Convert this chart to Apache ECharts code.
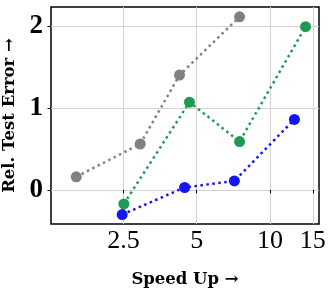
<!DOCTYPE html>
<html>
<head>
<meta charset="utf-8">
<script src="https://cdn.jsdelivr.net/npm/echarts@6/dist/echarts.min.js"></script>
<style>html,body{margin:0;padding:0;background:#fff}#c{width:334px;height:296px}</style>
</head>
<body>
<div id="c"></div>
<script>
const speedGray = [1.60, 2.93, 4.25, 7.50];
const errGray = [0.16, 0.56, 1.40, 2.11];
const speedGreen = [2.51, 4.67, 7.50, 14.0];
const errGreen = [-0.17, 1.07, 0.59, 1.99];
const speedBlue = [2.47, 4.46, 7.14, 12.6];
const errBlue = [-0.30, 0.03, 0.11, 0.86];
const xTickLabels = [2.5, 5, 10, 15];
const yTickLabels = [0, 1, 2];
const xRange = [1.26, 15.9];
const yRange = [-0.415, 2.23];

const lg = v => Math.log10(v);
const pts = (xs, ys) => xs.map((x, i) => [lg(x), ys[i]]);
const serif = '"Liberation Serif", "DejaVu Serif", serif';
const nameFont = '"DejaVu Serif", serif';

function mk(name, color, xs, ys) {
  return {
    name: name, type: 'line', data: pts(xs, ys),
    symbol: 'circle', symbolSize: 11,
    itemStyle: { color: color },
    lineStyle: { color: color, width: 2.5, type: [2.5, 3.5] },
    animation: false
  };
}

const chart = echarts.init(document.getElementById('c'), null, { renderer: 'canvas' });
chart.setOption({
  animation: false,
  grid: { left: 51, right: 15, top: 7, bottom: 72, containLabel: false, outerBoundsMode: 'none',
    show: true, borderColor: '#000', borderWidth: 1.5, backgroundColor: 'transparent' },
  xAxis: {
    type: 'value', min: lg(xRange[0]), max: lg(xRange[1]),
    name: 'Speed Up →', nameLocation: 'middle', nameGap: 47,
    nameTextStyle: { fontFamily: nameFont, fontWeight: 'bold', fontSize: 16.5, color: '#000' },
    axisLine: { show: false },
    axisTick: { show: true, inside: false, length: 3.5, customValues: xTickLabels.map(lg), lineStyle: { color: '#000', width: 1 } },
    axisLabel: { customValues: xTickLabels.map(lg), margin: 4, fontFamily: serif, fontSize: 26, color: '#000',
      formatter: v => String(+Math.pow(10, v).toFixed(1)) },
    splitLine: { show: true, lineStyle: { color: '#d3d3d3', width: 1 } }
  },
  yAxis: {
    type: 'value', min: yRange[0], max: yRange[1],
    name: 'Rel. Test Error →', nameLocation: 'middle', nameGap: 31,
    nameTextStyle: { fontFamily: nameFont, fontWeight: 'bold', fontSize: 16.5, color: '#000' },
    axisLine: { show: false },
    axisTick: { show: true, length: 3.5, customValues: yTickLabels, lineStyle: { color: '#000', width: 1 } },
    axisLabel: { customValues: yTickLabels, margin: 8, fontFamily: serif, fontWeight: 'bold', fontSize: 27, color: '#000' },
    splitLine: { show: true, lineStyle: { color: '#d3d3d3', width: 1 } }
  },
  series: [
    mk('gray', '#808080', speedGray, errGray),
    mk('green', '#1f9a55', speedGreen, errGreen),
    mk('blue', '#1515f5', speedBlue, errBlue)
  ]
});
</script>
</body>
</html>
